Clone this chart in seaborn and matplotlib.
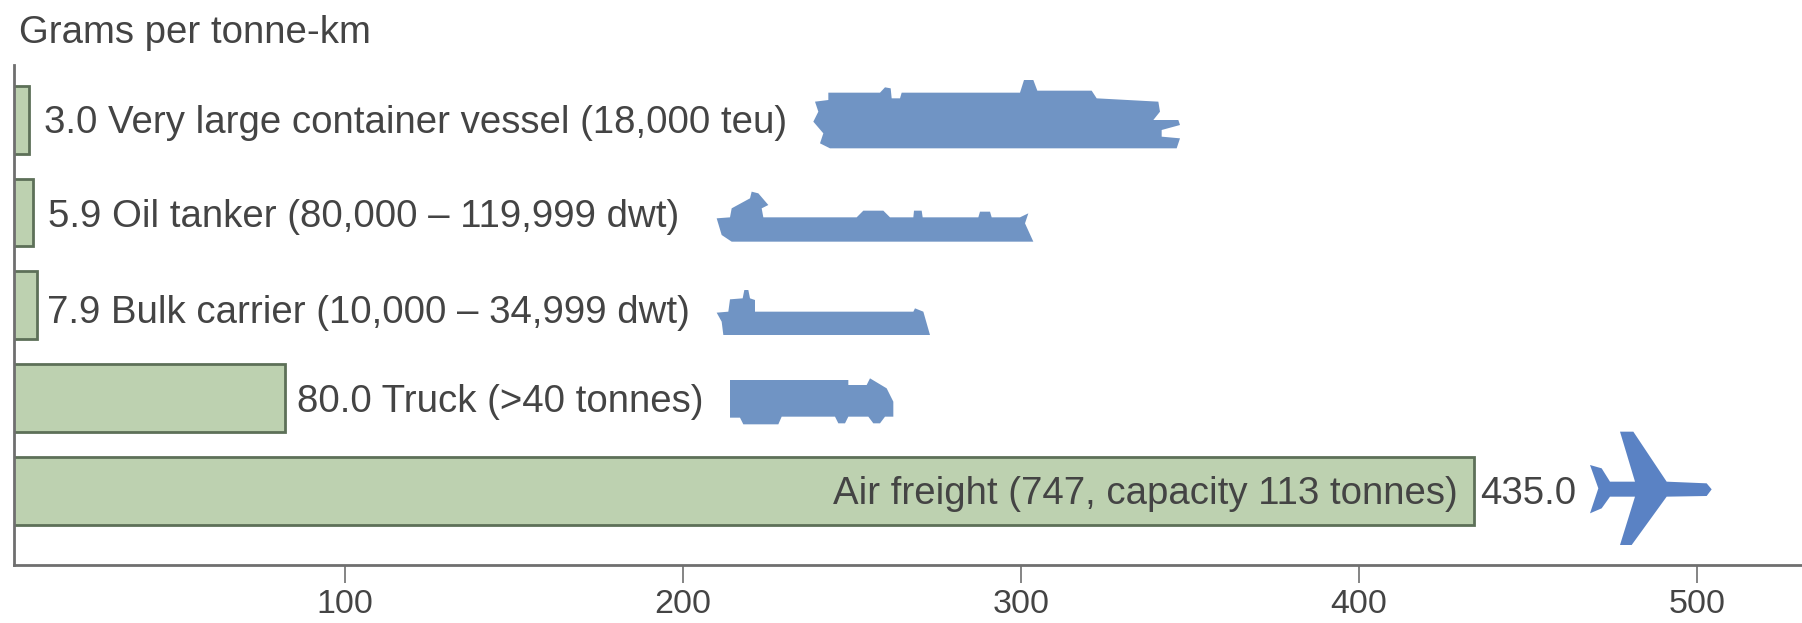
# -*- coding: utf-8 -*-
"""Emissions per tonne-km by freight mode, horizontal bars with vehicle icons."""
import matplotlib

matplotlib.use('Agg')

import matplotlib.pyplot as plt
import pandas as pd
import seaborn as sns

# Data
modes = [
    "Very large container vessel (18,000 teu)",
    "Oil tanker (80,000 – 119,999 dwt)",
    "Bulk carrier (10,000 – 34,999 dwt)",
    "Truck (>40 tonnes)",
    "Air freight (747, capacity 113 tonnes)",
]
printed_values = ["3.0", "5.9", "7.9", "80.0", "435.0"]
# bar lengths (the small bars are drawn longer than printed)
bar_lengths = [6.5, 7.7, 8.9, 82.3, 434.0]
x_ticks = [100, 200, 300, 400, 500]

W, H = 1802, 623
TEXT = "#444444"
LINE = "#6f6f6f"
FONT_SIZE = 27.6
TICK_SIZE = 24.5

ICON_SHIP_LARGE = ((800, 70), [
    (90, 235), (60, 220), (70, 190), (40, 155), (55, 125), (45, 95), (85, 90),
    (85, 68), (240, 68), (255, 52), (272, 55), (275, 85), (300, 85), (305, 68),
    (660, 68), (672, 30), (700, 30), (712, 62), (875, 62), (890, 85),
    (1075, 95), (1080, 125), (1060, 150), (1135, 150), (1140, 165),
    (1085, 180), (1085, 200), (1140, 205), (1130, 235),
])
ICON_TANKER = ((700, 180), [
    (95, 185), (65, 165), (50, 115), (90, 112), (95, 85), (150, 55), (155, 35),
    (175, 40), (205, 75), (185, 85), (190, 112), (470, 112), (490, 92),
    (550, 92), (570, 112), (640, 112), (642, 92), (665, 92), (668, 112),
    (835, 112), (840, 95), (870, 95), (875, 112), (960, 112), (985, 100),
    (975, 130), (1000, 185),
])
ICON_BULK = ((700, 280), [
    (70, 165), (65, 125), (50, 98), (85, 95), (90, 58), (128, 55), (133, 30),
    (145, 30), (150, 55), (165, 60), (165, 95), (640, 95), (645, 85),
    (670, 95), (690, 165),
])
ICON_TRUCK = ((710, 365), [
    (60, 45), (415, 45), (415, 60), (470, 60), (480, 40), (530, 70),
    (550, 110), (550, 155), (525, 155), (510, 175), (490, 175), (475, 155),
    (415, 155), (405, 175), (385, 175), (375, 155), (215, 155), (205, 178),
    (100, 178), (90, 158), (60, 158),
])
ICON_PLANE = ((1280, 400), [
    (1295, 268), (1280, 250), (1160, 245), (1060, 95), (1020, 95), (1065, 245),
    (990, 245), (965, 205), (930, 195), (955, 265), (930, 340), (965, 325),
    (990, 290), (1065, 290), (1020, 435), (1055, 435), (1160, 290), (1280, 288),
])


def draw_icon(fig, icon, color):
    (ox, oy), outline = icon
    xs = [(ox + x / 3) / W for x, _ in outline]
    ys = [1 - (oy + y / 3) / H for _, y in outline]
    fig.add_artist(plt.Polygon(list(zip(xs, ys)), closed=True, facecolor=color,
                               edgecolor="none", transform=fig.transFigure))


def main() -> None:
    sns.set_theme(style="white")
    plt.rcParams['font.family'] = ['Liberation Sans', 'DejaVu Sans']

    df = pd.DataFrame({"mode": modes, "length": bar_lengths})

    fig = plt.figure(figsize=(W / 100, H / 100), dpi=100)
    ax = fig.add_axes([14 / W, (H - 565) / H, (W - 14) / W, 500 / H])

    sns.barplot(data=df, y="mode", x="length", orient="h", ax=ax, width=0.73,
                color="#bdd1b0", saturation=1, edgecolor="#5d7058", linewidth=2)

    ax.set_xlim(2.07, 531)
    ax.set_ylim(4.80, -0.59)
    ax.set_xlabel("")
    ax.set_ylabel("")
    ax.set_yticks([])
    ax.set_xticks(x_ticks)
    ax.tick_params(axis="x", length=13, width=1.2, color=LINE,
                   labelsize=TICK_SIZE, labelcolor=TEXT, pad=4, bottom=True)

    sns.despine(ax=ax, top=True, right=True)
    for side in ("left", "bottom"):
        ax.spines[side].set_color(LINE)
        ax.spines[side].set_linewidth(2)

    # Labels beside the bars; air freight carries its name inside the bar
    offsets = [(15, -3), (15, -5), (10, -8), (12, -4)]
    for i in range(4):
        ax.annotate(f"{printed_values[i]} {modes[i]}", (bar_lengths[i], i),
                    xytext=offsets[i], textcoords="offset pixels",
                    ha="left", va="center", fontsize=FONT_SIZE, color=TEXT)
    ax.annotate(modes[4], (bar_lengths[4], 4), xytext=(-16, -3),
                textcoords="offset pixels", ha="right", va="center",
                fontsize=FONT_SIZE, color=TEXT)
    ax.annotate(printed_values[4], (bar_lengths[4], 4), xytext=(6, -3),
                textcoords="offset pixels", ha="left", va="center",
                fontsize=FONT_SIZE, color=TEXT)

    fig.text(19 / W, 1 - 33 / H, "Grams per tonne-km", ha="left", va="center",
             fontsize=FONT_SIZE, color=TEXT)

    for icon in (ICON_SHIP_LARGE, ICON_TANKER, ICON_BULK, ICON_TRUCK):
        draw_icon(fig, icon, "#7094c4")
    draw_icon(fig, ICON_PLANE, "#5a82c4")

    fig.savefig("out.png", dpi=100)
    plt.close(fig)


if __name__ == "__main__":
    main()
